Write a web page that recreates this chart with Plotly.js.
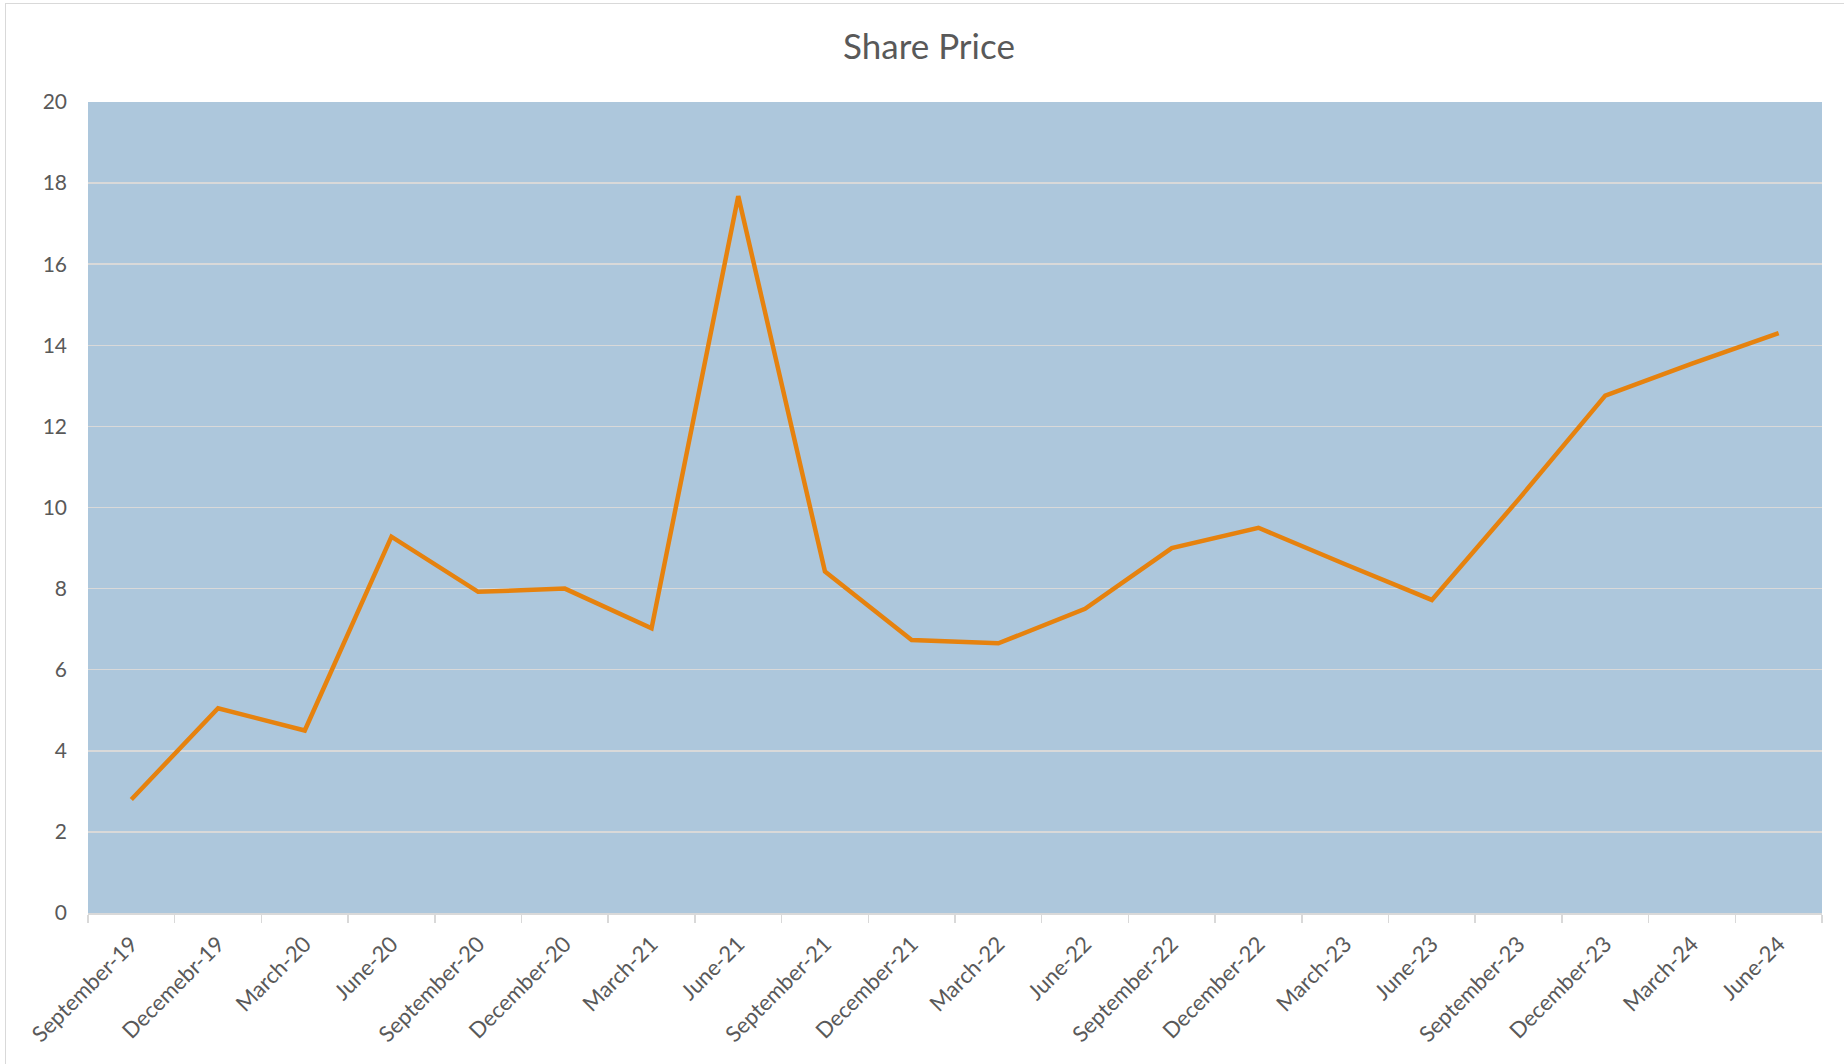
<!DOCTYPE html>
<html>
<head>
<meta charset="utf-8">
<script src="https://cdn.plot.ly/plotly-3.0.1.min.js"></script>
<style>
  html, body { margin: 0; padding: 0; background: #ffffff; overflow: hidden; }
  #chart { position: absolute; left: 0; top: 0; width: 1844px; height: 1064px; }
  #frame { position: absolute; left: 5px; top: 3px; width: 2000px; height: 2000px;
           border: 1.5px solid #D9D9D9; pointer-events: none; z-index: 10; box-sizing: border-box; }
</style>
</head>
<body>
<div id="chart"></div>
<div id="frame"></div>
<script>
const categories = ["September-19","Decemebr-19","March-20","June-20","September-20","December-20",
  "March-21","June-21","September-21","December-21","March-22","June-22","September-22",
  "December-22","March-23","June-23","September-23","December-23","March-24","June-24"];
const sharePrice = [2.8, 5.05, 4.5, 9.28, 7.92, 8.0, 7.02, 17.68, 8.42, 6.73, 6.65, 7.5, 9.0,
  9.5, 8.6, 7.72, 10.2, 12.76, 13.55, 14.3];
const yTickValues = [0, 2, 4, 6, 8, 10, 12, 14, 16, 18, 20];
const chartTitle = "Share Price";

const fontFamily = "Lato, 'Open Sans', sans-serif";
const textColor = "#595959";
const gridColor = "#D9D9D9";

const trace = {
  type: "scatter",
  mode: "lines",
  x: categories,
  y: sharePrice,
  line: { color: "#E6820E", width: 4.5 },
  hoverinfo: "x+y"
};

const layout = {
  width: 1844,
  height: 1064,
  margin: { l: 88, r: 22, t: 102, b: 151 },
  paper_bgcolor: "#FFFFFF",
  plot_bgcolor: "#ADC7DC",
  showlegend: false,
  title: {
    text: chartTitle,
    font: { family: fontFamily, size: 35, color: textColor },
    x: 929 / 1844, xref: "container", xanchor: "center",
    y: 1 - 47 / 1064, yref: "container", yanchor: "middle"
  },
  xaxis: {
    type: "category",
    tickangle: -45,
    tickson: "boundaries",
    ticks: "outside",
    ticklen: 8,
    tickwidth: 1.5,
    tickcolor: gridColor,
    showline: true,
    linecolor: gridColor,
    linewidth: 1.5,
    showgrid: false,
    zeroline: false,
    ticklabelstandoff: 8,
    tickfont: { family: fontFamily, size: 22, color: textColor },
    range: [-0.5, categories.length - 0.5]
  },
  yaxis: {
    range: [0, 20],
    tickvals: yTickValues,
    ticktext: yTickValues.map(String),
    showgrid: true,
    gridcolor: gridColor,
    gridwidth: 1.5,
    zeroline: false,
    showline: false,
    ticks: "",
    ticklabelstandoff: 20,
    tickfont: { family: fontFamily, size: 21, color: textColor }
  }
};

Plotly.newPlot("chart", [trace], layout, { displayModeBar: false, staticPlot: true });
</script>
</body>
</html>
